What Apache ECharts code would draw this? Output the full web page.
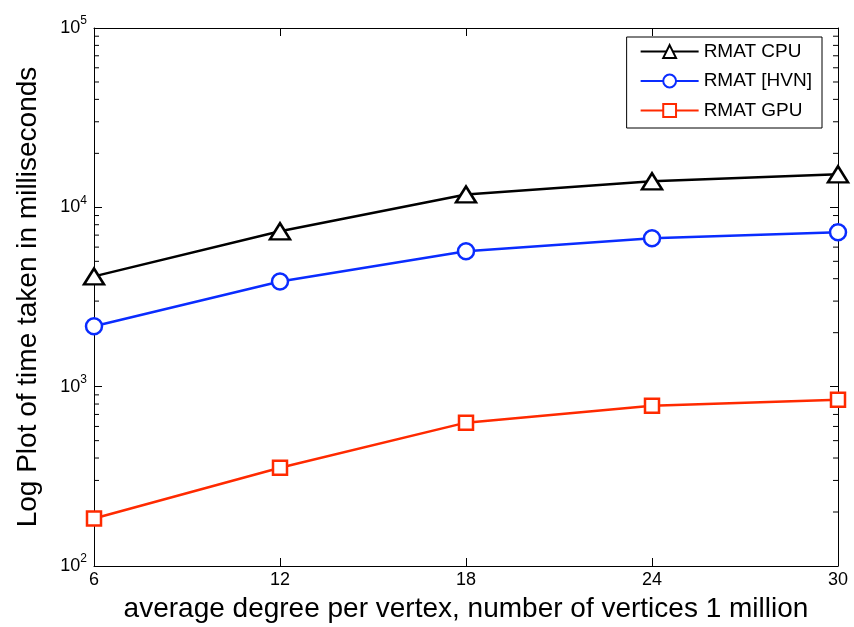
<!DOCTYPE html>
<html>
<head>
<meta charset="utf-8">
<script src="https://cdn.jsdelivr.net/npm/echarts@6/dist/echarts.min.js"></script>
<style>html,body{margin:0;padding:0;background:#fff;}#c{width:854px;height:627px;}</style>
</head>
<body>
<div id="c"></div>
<script>
const xValues = [6, 12, 18, 24, 30];
const cpu = [4120, 7350, 11800, 13970, 15280];
const hvn = [2170, 3860, 5690, 6720, 7260];
const gpu = [184, 353, 630, 783, 846];
const seriesNames = ['RMAT CPU', 'RMAT [HVN]', 'RMAT GPU'];
const yMinorTicks = [200,300,400,500,600,700,800,900,2000,3000,4000,5000,6000,7000,8000,9000,20000,30000,40000,50000,60000,70000,80000,90000];

const FONT = 'Liberation Sans';
const pairs = arr => xValues.map((x, i) => [x, arr[i]]);

const chart = echarts.init(document.getElementById('c'), null, {renderer: 'canvas'});
const supFmt = v => {
  const e = Math.round(Math.log10(v));
  return '{b|10}{s|' + e + '}';
};
const yLabel = {
  fontFamily: FONT, color: '#000', margin: 7,
  formatter: supFmt,
  rich: {
    b: {fontSize: 18, fontFamily: FONT, color: '#000'},
    s: {fontSize: 12, fontFamily: FONT, color: '#000', verticalAlign: 'top', padding: [0,0,14,0]}
  }
};
chart.setOption({
  backgroundColor: '#fff',
  animation: false,
  grid: {left: 94, right: 16, top: 28, bottom: 61, outerBoundsMode: 'none', containLabel: false},
  legend: {
    data: seriesNames,
    right: 32, top: 37,
    orient: 'vertical',
    backgroundColor: '#fff',
    borderColor: '#000', borderWidth: 1, borderRadius: 0,
    padding: [5, 10, 8, 13],
    itemWidth: 58, itemHeight: 16, itemGap: 10.5,
    textStyle: {fontFamily: FONT, fontSize: 19, color: '#000'}
  },
  xAxis: [{
    type: 'value', min: 6, max: 30, interval: 6,
    name: 'average degree per vertex, number of vertices 1 million',
    nameLocation: 'middle', nameGap: 29,
    nameTextStyle: {fontFamily: FONT, fontSize: 28, color: '#000'},
    axisLine: {lineStyle: {color: '#000', width: 1}},
    axisTick: {inside: true, length: 8, lineStyle: {color: '#000'}},
    axisLabel: {fontFamily: FONT, fontSize: 18, color: '#000', margin: 5},
    splitLine: {show: false}
  }, {
    type: 'value', min: 6, max: 30, interval: 6, position: 'top',
    axisLine: {lineStyle: {color: '#000', width: 1}},
    axisTick: {inside: true, length: 8, lineStyle: {color: '#000'}},
    axisLabel: {show: false}, splitLine: {show: false}
  }],
  yAxis: [{
    type: 'log', logBase: 10, min: 100, max: 100000,
    name: 'Log Plot of time taken in milliseconds',
    nameLocation: 'middle', nameGap: 52, nameRotate: 90,
    nameTextStyle: {fontFamily: FONT, fontSize: 28, color: '#000'},
    axisLine: {lineStyle: {color: '#000', width: 1}},
    axisTick: {inside: true, length: 8, lineStyle: {color: '#000'}},
    axisLabel: yLabel,
    splitLine: {show: false}
  }, {
    type: 'log', logBase: 10, min: 100, max: 100000, position: 'right',
    axisLine: {lineStyle: {color: '#000', width: 1}},
    axisTick: {inside: true, length: 8, lineStyle: {color: '#000'}},
    axisLabel: {show: false}, splitLine: {show: false}
  }],
  series: [
    {
      name: seriesNames[0], type: 'line', data: pairs(cpu),
      symbol: 'triangle', symbolSize: [20, 16],
      lineStyle: {color: '#000', width: 2.5},
      itemStyle: {color: '#fff', borderColor: '#000', borderWidth: 2.5},
      color: '#000', z: 3
    },
    {
      name: seriesNames[1], type: 'line', data: pairs(hvn),
      symbol: 'circle', symbolSize: 16,
      lineStyle: {color: '#0a2cff', width: 2.5},
      itemStyle: {color: '#fff', borderColor: '#0a2cff', borderWidth: 2.5},
      color: '#0a2cff', z: 3
    },
    {
      name: seriesNames[2], type: 'line', data: pairs(gpu),
      symbol: 'rect', symbolSize: 14,
      lineStyle: {color: '#ff2a00', width: 2.5},
      itemStyle: {color: '#fff', borderColor: '#ff2a00', borderWidth: 2.5},
      color: '#ff2a00', z: 3
    },
    {
      name: 'minorTicks', type: 'custom', silent: true, clip: false,
      data: yMinorTicks.map(v => [xValues[0], v]),
      encode: {x: 0, y: 1},
      renderItem: function (params, api) {
        const v = api.value(1);
        const pl = api.coord([6, v]);
        const pr = api.coord([30, v]);
        return {
          type: 'group',
          children: [
            {type: 'line', shape: {x1: pl[0], y1: pl[1], x2: pl[0] + 5, y2: pl[1]}, style: {stroke: '#000', lineWidth: 1}},
            {type: 'line', shape: {x1: pr[0], y1: pr[1], x2: pr[0] - 5, y2: pr[1]}, style: {stroke: '#000', lineWidth: 1}}
          ]
        };
      }
    }
  ]
});
</script>
</body>
</html>
